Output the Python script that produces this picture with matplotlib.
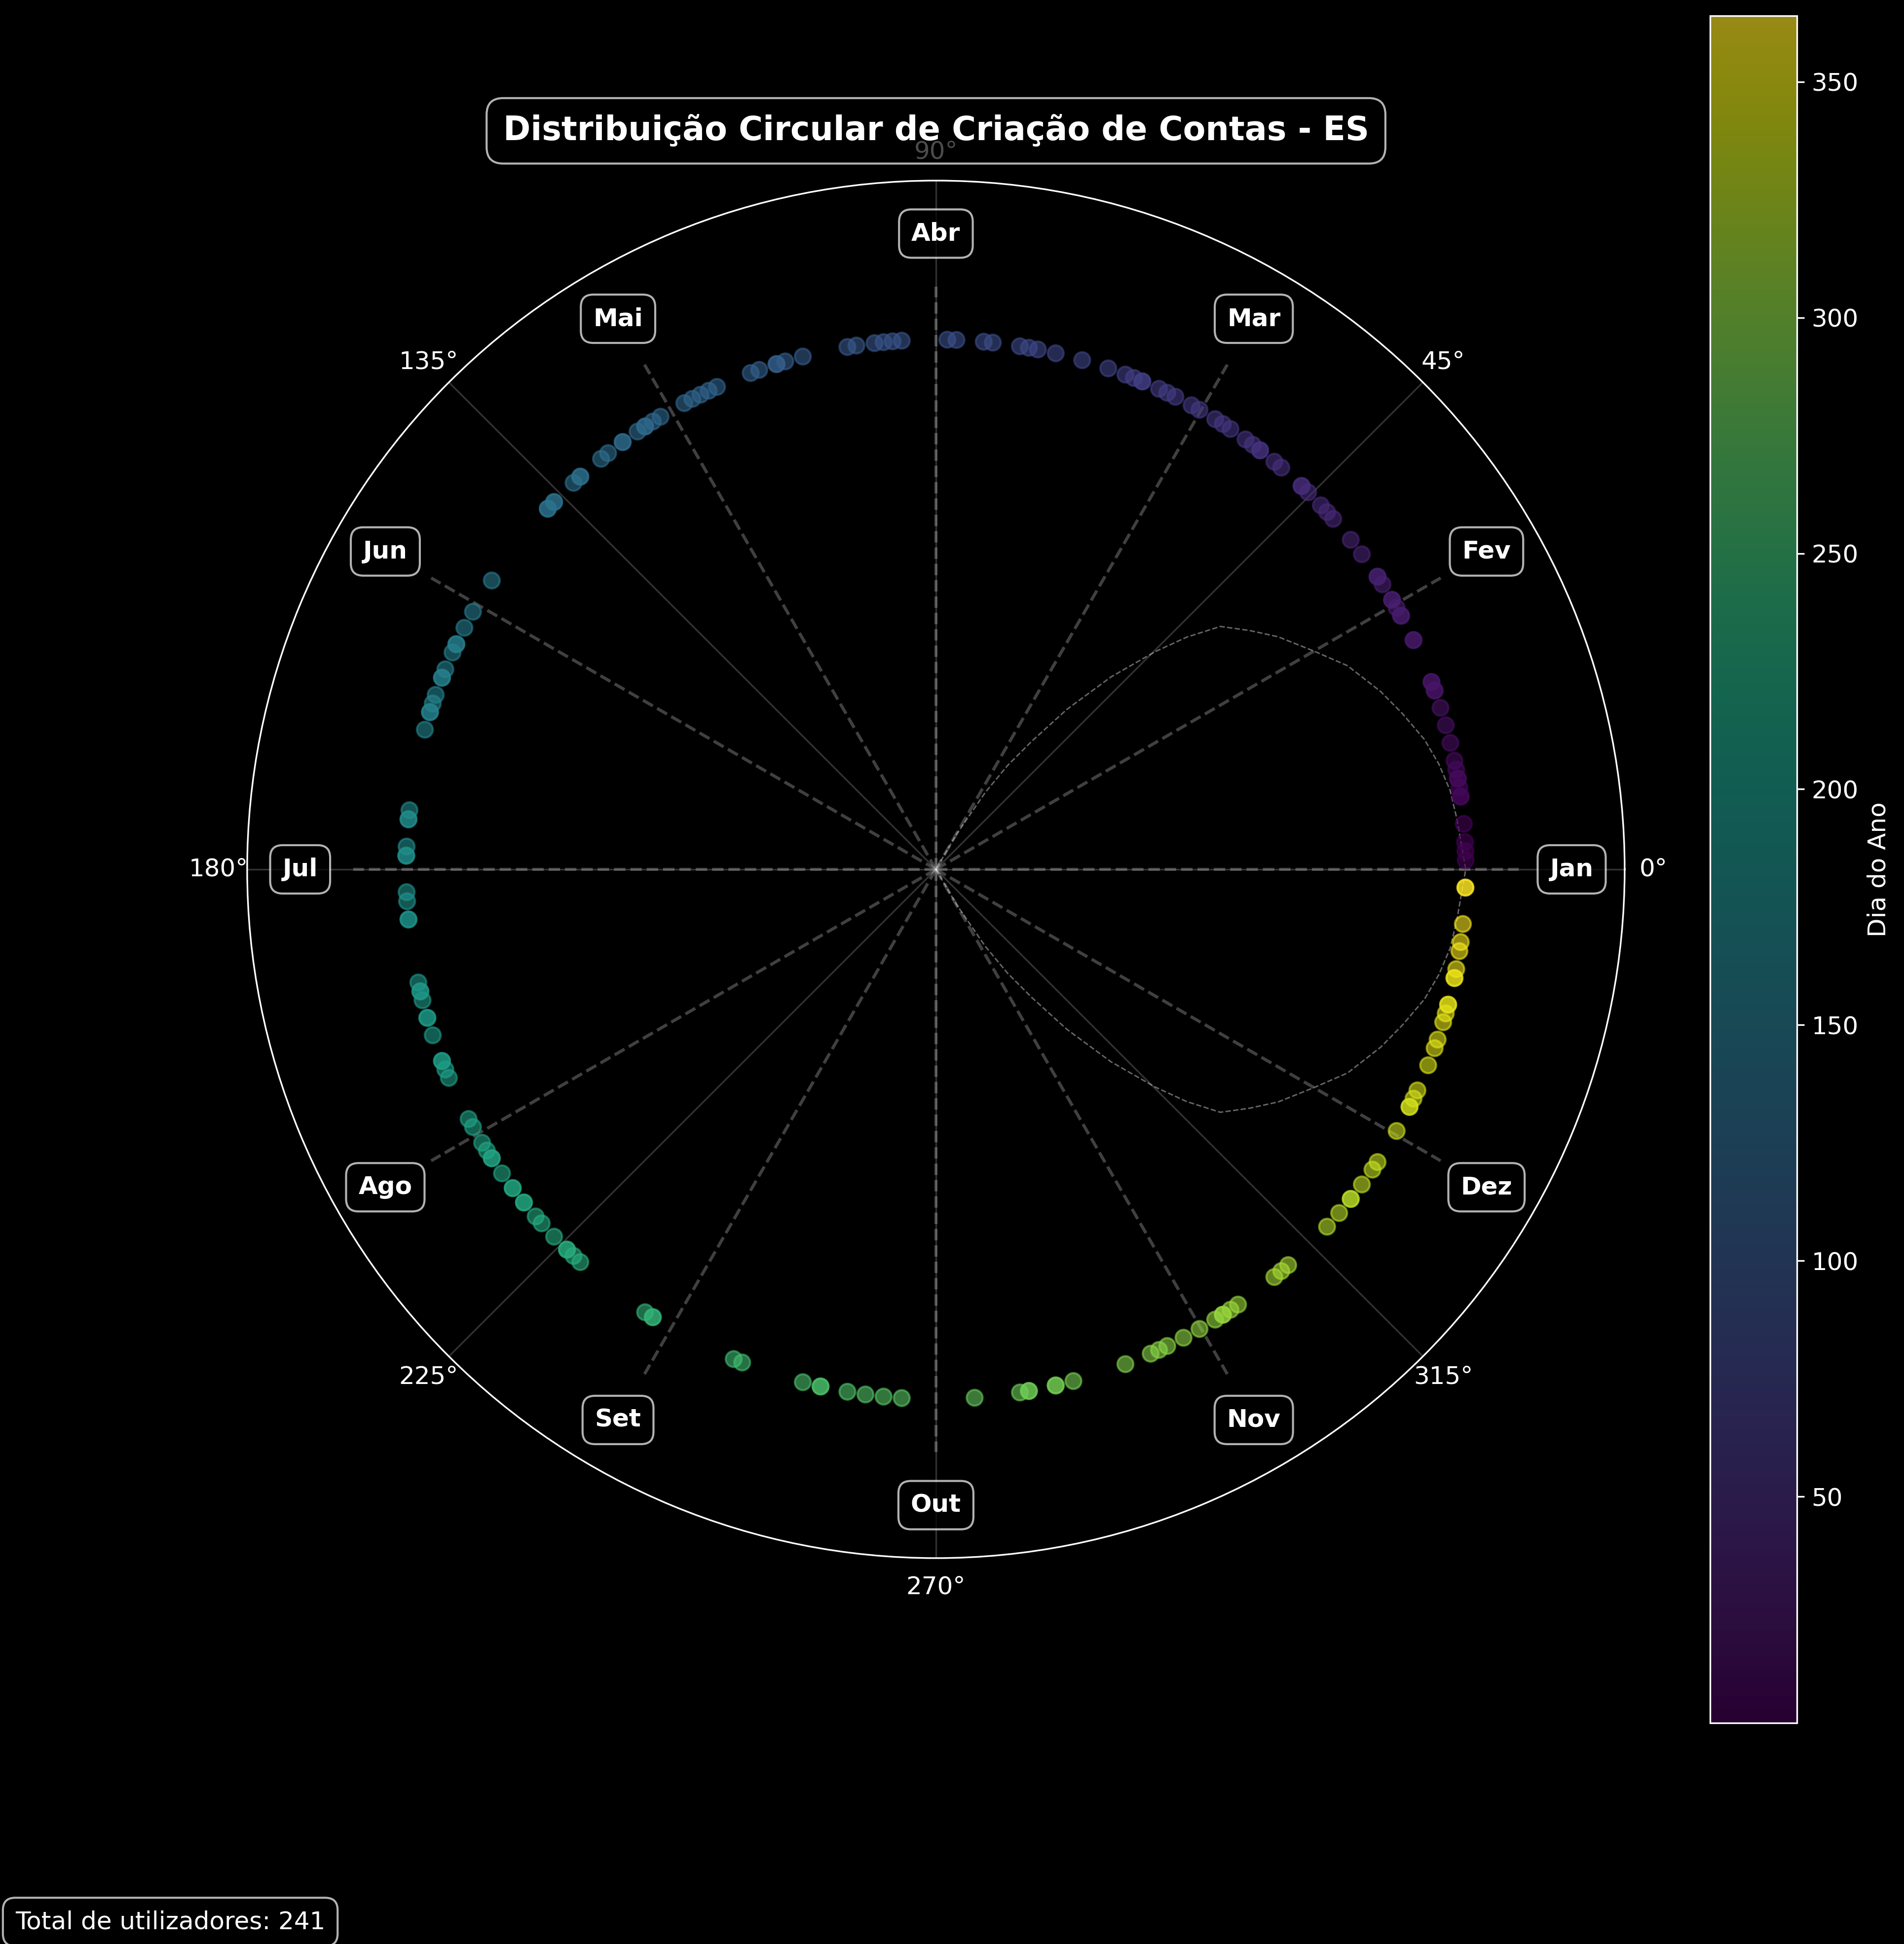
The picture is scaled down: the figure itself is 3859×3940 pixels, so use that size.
import numpy as np
import matplotlib
matplotlib.use('Agg')
import matplotlib.pyplot as plt

# dia do ano de criacao de cada conta
days = [2, 3, 4, 6, 9, 9, 10, 11, 11, 12, 13, 15, 17, 19, 21, 21, 22, 22, 27, 27,
        30, 30, 31, 32, 32, 34, 35, 35, 38, 40, 43, 44, 45, 47, 48, 48, 51, 52, 54, 54,
        55, 56, 58, 59, 60, 62, 63, 65, 66, 67, 69, 69, 70, 71, 73, 76, 79, 81, 82, 83,
        86, 87, 90, 91,
        96, 97, 98, 99, 101, 102, 107, 109, 110, 110, 112, 113, 117, 118, 119, 120, 121,
        124, 125, 126, 126, 127, 129, 129, 131, 132, 135, 135, 136, 139, 139, 140, 140,
        150, 154, 156, 158, 158, 159, 161, 162, 162, 164, 165, 166, 166, 168, 177, 178,
        178, 181, 182, 182,
        186, 187, 189, 189, 196, 197, 197, 198, 200, 200, 202, 205, 205, 206, 207, 212,
        213, 215, 216, 217, 217, 219, 221, 221, 223, 223, 225, 226, 228, 230, 230, 231,
        232, 241, 242, 242, 252, 253, 260, 262, 262, 265, 267, 269, 271,
        279, 284, 285, 285, 288, 288, 290, 296, 299, 300, 301, 303, 305, 307, 308, 308,
        309, 310, 315, 316, 317, 323, 325, 327, 327, 329, 331, 332, 336, 339, 339, 340,
        341, 344, 346, 347, 349, 350, 351, 351, 354, 354, 355, 357, 358, 360, 364, 364]
total_users = 241

months = ['Jan', 'Fev', 'Mar', 'Abr', 'Mai', 'Jun',
          'Jul', 'Ago', 'Set', 'Out', 'Nov', 'Dez']

# curva tracejada
curve_theta_deg = [-62, -59.6, -57.3, -55.4, -53.2, -50.7, -47.7, -44.8, -42.8, -40.5,
                   -37.3, -34.2, -29.9, -26.3, -21.8, -18.5, -14.9, -11.8, -8.7, -5.5,
                   0, 5.5, 8.7, 11.8, 14.9, 18.5, 21.8, 26.3, 29.9, 34.2, 37.3,
                   40.5, 42.8, 44.8, 47.7, 50.7, 53.2, 55.4, 57.3, 59.6, 62]
curve_r = [0.0, 0.078, 0.173, 0.238, 0.302, 0.390, 0.491, 0.583, 0.645, 0.706,
           0.744, 0.781, 0.825, 0.867, 0.904, 0.928, 0.954, 0.970, 0.982, 0.988,
           1.0, 0.988, 0.982, 0.970, 0.954, 0.928, 0.904, 0.867, 0.825, 0.781, 0.744,
           0.706, 0.645, 0.583, 0.491, 0.390, 0.302, 0.238, 0.173, 0.078, 0.0]

plt.style.use('dark_background')
plt.rcParams['font.size'] = 12

fig = plt.figure(figsize=(3859 / 300, 3940 / 300), dpi=300)
ax = fig.add_axes([0.1298, 0.1985, 0.7235, 0.7086], projection='polar')

d = np.array(days)
theta = (d - 1) / 365 * 2 * np.pi
r = np.ones(len(d))

# linhas dos meses
for i, m in enumerate(months):
    a = np.deg2rad(30 * i)
    ax.plot([a, a], [0, 1.1], color='gray', alpha=0.5, lw=1.5, ls='--', zorder=1)
    ax.text(a, 1.2, m, ha='center', va='center', fontsize=12, fontweight='bold',
            color='white', zorder=5,
            bbox=dict(boxstyle='round,pad=0.5', facecolor='black',
                      edgecolor='white', alpha=0.7))

ax.plot(np.deg2rad(curve_theta_deg), curve_r, color='white', alpha=0.4,
        lw=0.7, ls='--', zorder=2)

sc = ax.scatter(theta, r, c=d, cmap='viridis', s=60, alpha=0.6, zorder=3)

ax.set_ylim(0, 1.3)
ax.set_yticks([])
ax.grid(True, color='white', alpha=0.2, lw=0.8)

cax = fig.add_axes([0.8982, 0.1137, 0.0456, 0.8782])
cb = fig.colorbar(sc, cax=cax)
cb.set_label('Dia do Ano', fontsize=12)

fig.text(0.4916, 0.9327, 'Distribuição Circular de Criação de Contas - ES',
         ha='center', va='center', fontsize=16, fontweight='bold', color='white',
         bbox=dict(boxstyle='round,pad=0.5', facecolor='black',
                   edgecolor='white', alpha=0.7))

fig.text(0.008, 0.0078, f'Total de utilizadores: {total_users}', fontsize=12,
         color='white',
         bbox=dict(boxstyle='round,pad=0.5', facecolor='black',
                   edgecolor='white', alpha=0.7))

fig.savefig('out.png', dpi=300, facecolor='black')
